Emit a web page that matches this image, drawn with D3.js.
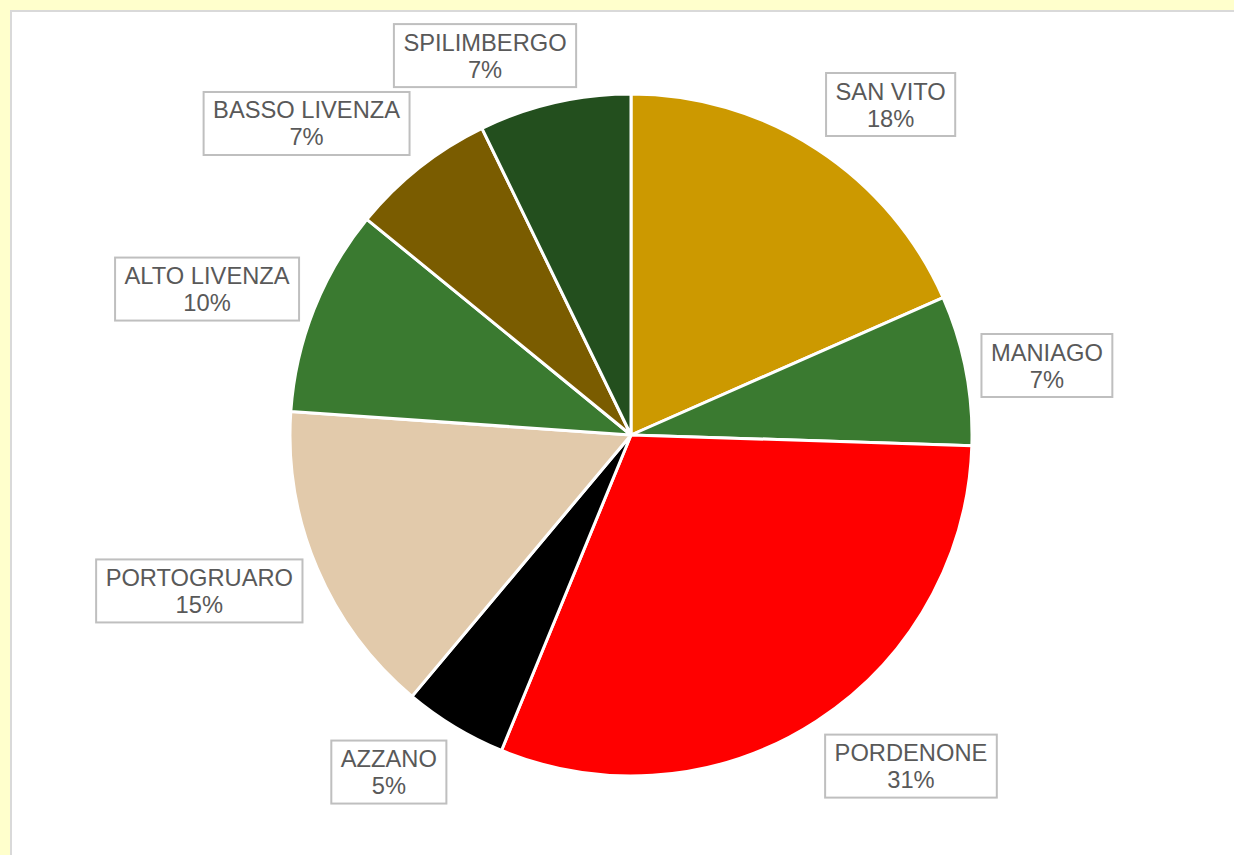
<!DOCTYPE html>
<html>
<head>
<meta charset="utf-8">
<script src="https://d3js.org/d3.v7.min.js"></script>
<style>
  body { margin: 0; background: #FFFFCC; }
</style>
</head>
<body>
<div id="my_dataviz"></div>
<script>
// data (share of total, %)
const categories = ["SAN VITO", "MANIAGO", "PORDENONE", "AZZANO", "PORTOGRUARO", "ALTO LIVENZA", "BASSO LIVENZA", "SPILIMBERGO"];
const values = [18.4, 7.1, 30.7, 4.9, 15.0, 9.8, 6.9, 7.2];
const colors = ["#CC9900", "#3A7A30", "#FF0000", "#000000", "#E2CAAB", "#3A7A30", "#7A5C00", "#234F1E"];

const width = 1234, height = 855;
const cx = 631, cy = 435, radius = 341;

const svg = d3.select("#my_dataviz")
  .append("svg")
    .attr("width", width)
    .attr("height", height);

// chart area
svg.append("rect")
  .attr("x", 11).attr("y", 11)
  .attr("width", width).attr("height", height)
  .attr("fill", "white")
  .attr("stroke", "#D9D9D9")
  .attr("stroke-width", 2);

const g = svg.append("g")
  .attr("transform", `translate(${cx}, ${cy})`);

const data = categories.map((c, i) => ({name: c, value: values[i], color: colors[i]}));
const total = d3.sum(values);

const pie = d3.pie().sort(null).value(d => d.value);
const arc = d3.arc().innerRadius(0).outerRadius(radius);
const arcs = pie(data);

// slices
g.selectAll("path")
  .data(arcs)
  .enter()
  .append("path")
    .attr("d", arc)
    .attr("fill", d => d.data.color)
    .attr("stroke", "white")
    .attr("stroke-width", 3)
    .attr("stroke-linejoin", "round");

// labels outside, in boxes (corner of the box sits on the anchor point)
const fontSize = 23.7, lineH = 27, padX = 9.5, boxH = 63, gap = 16;

const labels = g.selectAll("g.lbl")
  .data(arcs)
  .enter()
  .append("g")
    .attr("class", "lbl");

labels.each(function(d) {
  const sel = d3.select(this);
  const pct = Math.round(d.data.value / total * 100) + "%";
  const t = sel.append("text")
    .attr("text-anchor", "middle")
    .style("font-family", "Liberation Sans, Arial, sans-serif")
    .style("font-size", fontSize + "px")
    .attr("fill", "#595959");
  const t1 = t.append("tspan").attr("x", 0).attr("y", -5).text(d.data.name);
  const t2 = t.append("tspan").attr("x", 0).attr("y", -5 + lineH).text(pct);

  const w = Math.max(t1.node().getComputedTextLength(), t2.node().getComputedTextLength());
  const bw = w + padX * 2;

  sel.insert("rect", "text")
    .attr("x", -bw / 2).attr("y", -boxH / 2)
    .attr("width", bw).attr("height", boxH)
    .attr("fill", "white")
    .attr("stroke", "#BFBFBF")
    .attr("stroke-width", 2);

  const a = (d.startAngle + d.endAngle) / 2;
  const s = Math.sin(a), c = Math.cos(a);
  const qx = (radius + gap) * s, qy = -(radius + gap) * c;
  const hx = Math.min(1, Math.abs(s) / 0.31);
  const hy = Math.max(0, Math.min(1, (Math.abs(c) - 0.17) / 0.43));
  const bx = qx + Math.sign(s) * (bw / 2) * hx;
  const by = qy - Math.sign(c) * (boxH / 2) * hy;
  sel.attr("transform", `translate(${bx}, ${by})`);
});
</script>
</body>
</html>
